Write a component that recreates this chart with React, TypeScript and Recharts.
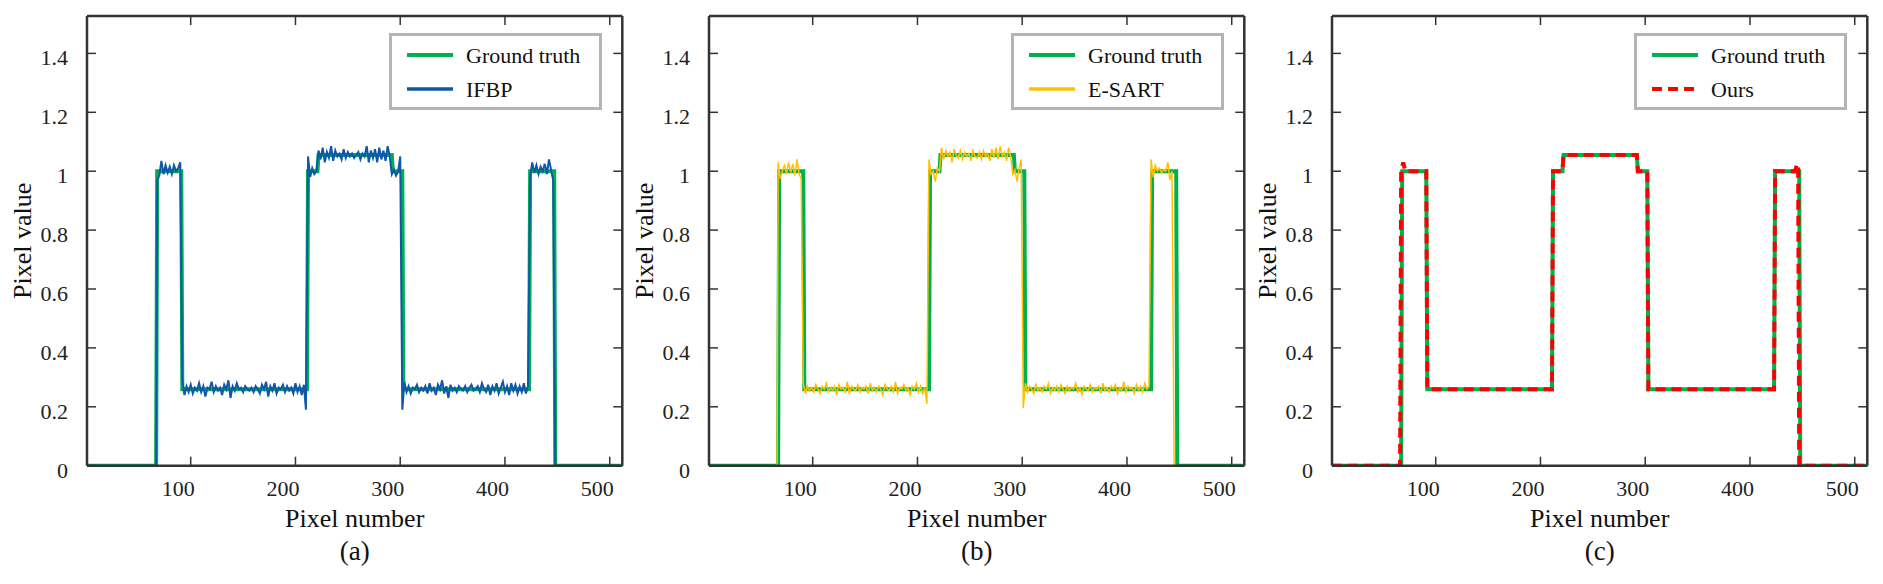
import { LineChart, Line, XAxis, YAxis, ReferenceLine, Legend } from "recharts";

const FONT = '"Liberation Serif", "Times New Roman", serif';
const AXIS = "#333333";
const GREEN = "#00b050";

// axes
const xTicks = [100, 200, 300, 400, 500];
const yTicks = [0, 0.2, 0.4, 0.6, 0.8, 1, 1.2, 1.4];
const xDomain = [1, 512];
const yDomain = [0, 1.527];

// ground truth step profile
const truthX = [1, 67, 68, 91, 92, 211, 212, 221, 222, 292, 293, 302, 303, 423, 424, 447, 448, 512];
const truthY = [0, 0, 1, 1, 0.26, 0.26, 1, 1, 1.055, 1.055, 1, 1, 0.26, 0.26, 1, 1, 0, 0];

// IFBP, read every 2 pixels along each plateau
const ifbpA = [0.97, 0.985, 1.035, 0.99, 1.02, 0.995, 1.015, 0.99, 1.02, 1.0, 1.01, 1.03]; // x 68..90
const ifbpB = [
  0.29, 0.24, 0.27, 0.25, 0.275, 0.245, 0.265, 0.255, 0.28, 0.25,
  0.27, 0.235, 0.265, 0.26, 0.285, 0.25, 0.27, 0.255, 0.265, 0.24,
  0.275, 0.26, 0.29, 0.23, 0.27, 0.255, 0.28, 0.26, 0.265, 0.25,
  0.27, 0.26, 0.255, 0.265, 0.25, 0.27, 0.26, 0.245, 0.275, 0.26,
  0.285, 0.235, 0.27, 0.255, 0.28, 0.245, 0.265, 0.26, 0.275, 0.25,
  0.27, 0.255, 0.265, 0.245, 0.28, 0.25, 0.27, 0.24, 0.275, 0.19,
]; // x 92..210
const ifbpC = [1.05, 0.98, 1.01, 0.99, 1.0]; // x 212..220
const ifbpD = [
  1.07, 1.04, 1.08, 1.03, 1.065, 1.045, 1.085, 1.035, 1.07, 1.05,
  1.06, 1.04, 1.075, 1.045, 1.065, 1.05, 1.06, 1.045, 1.055, 1.065,
  1.04, 1.06, 1.05, 1.085, 1.03, 1.07, 1.045, 1.075, 1.03, 1.08,
  1.04, 1.07, 1.035, 1.085, 1.05,
]; // x 222..290
const ifbpE = [0.99, 1.005, 0.985, 1.0, 1.05]; // x 292..300
const ifbpF = [
  0.19, 0.285, 0.25, 0.27, 0.245, 0.265, 0.26, 0.275, 0.25, 0.265,
  0.255, 0.27, 0.245, 0.28, 0.255, 0.265, 0.24, 0.275, 0.26, 0.29,
  0.245, 0.27, 0.23, 0.275, 0.255, 0.265, 0.25, 0.27, 0.26, 0.255,
  0.27, 0.25, 0.265, 0.275, 0.255, 0.26, 0.27, 0.25, 0.28, 0.26,
  0.25, 0.275, 0.24, 0.27, 0.255, 0.28, 0.245, 0.265, 0.285, 0.25,
  0.27, 0.24, 0.28, 0.255, 0.275, 0.245, 0.27, 0.25, 0.28, 0.245, 0.27,
]; // x 302..422
const ifbpG = [0.98, 1.03, 0.995, 1.02, 0.99, 1.015, 1.0, 1.025, 0.99, 1.04, 1.005, 0.97]; // x 424..446

// E-SART
const esartA = [1.03, 0.975, 1.0, 1.02, 0.99, 1.03, 0.995, 1.025, 0.985, 1.04, 0.99, 0.975]; // x 67..89
const esartB = [
  0.28, 0.245, 0.27, 0.255, 0.265, 0.25, 0.275, 0.26, 0.245, 0.27,
  0.26, 0.28, 0.25, 0.265, 0.255, 0.27, 0.24, 0.275, 0.26, 0.265,
  0.25, 0.285, 0.245, 0.27, 0.26, 0.255, 0.275, 0.25, 0.265, 0.26,
  0.27, 0.245, 0.28, 0.255, 0.265, 0.25, 0.27, 0.26, 0.24, 0.275,
  0.26, 0.255, 0.27, 0.25, 0.285, 0.245, 0.265, 0.26, 0.275, 0.255,
  0.265, 0.24, 0.27, 0.26, 0.28, 0.25, 0.27, 0.245, 0.265, 0.21,
]; // x 91..209
const esartC = [1.04, 0.99, 1.0, 0.965, 1.01, 1.0]; // x 211..221
const esartD = [
  1.08, 1.04, 1.07, 1.05, 1.065, 1.03, 1.075, 1.055, 1.045, 1.07,
  1.04, 1.065, 1.05, 1.06, 1.035, 1.07, 1.05, 1.045, 1.065, 1.04,
  1.07, 1.05, 1.06, 1.035, 1.075, 1.045, 1.08, 1.04, 1.085, 1.05,
  1.065, 1.035, 1.08, 1.05,
]; // x 223..289
const esartE = [0.99, 1.005, 0.965, 1.01, 1.04]; // x 291..299
const esartF = [
  0.195, 0.28, 0.25, 0.27, 0.26, 0.245, 0.275, 0.255, 0.265, 0.25,
  0.27, 0.26, 0.28, 0.245, 0.265, 0.255, 0.27, 0.25, 0.275, 0.26,
  0.245, 0.27, 0.255, 0.265, 0.26, 0.28, 0.25, 0.265, 0.24, 0.27,
  0.26, 0.255, 0.275, 0.25, 0.265, 0.26, 0.27, 0.245, 0.28, 0.255,
  0.265, 0.25, 0.27, 0.26, 0.275, 0.245, 0.265, 0.255, 0.285, 0.25,
  0.27, 0.26, 0.265, 0.245, 0.275, 0.255, 0.27, 0.25, 0.28, 0.26, 0.27,
]; // x 301..421
const esartG = [1.04, 0.98, 1.02, 1.0, 1.01, 0.995, 1.005, 1.0, 1.03, 0.97, 1.0]; // x 423..443

// Ours
const oursX = [1, 66, 67, 69, 71, 91, 92, 211, 212, 221, 222, 292, 293, 302, 303, 423, 424, 443, 445, 446, 447, 512];
const oursY = [0, 0, 1.0, 1.03, 1.0, 1.0, 0.26, 0.26, 1.0, 1.0, 1.055, 1.055, 1.0, 1.0, 0.26, 0.26, 1.0, 1.0, 1.025, 1.01, 0, 0];

type Pt = { x: number; y: number };
const zip = (xs: number[], ys: number[]): Pt[] => xs.map((x, i) => ({ x, y: ys[i] }));
const seg = (x0: number, ys: number[]): Pt[] => ys.map((y, i) => ({ x: x0 + 2 * i, y }));

const truth = zip(truthX, truthY);
const ifbp: Pt[] = [
  { x: 1, y: 0 }, { x: 67, y: 0 },
  ...seg(68, ifbpA), ...seg(92, ifbpB), ...seg(212, ifbpC), ...seg(222, ifbpD),
  ...seg(292, ifbpE), ...seg(302, ifbpF), ...seg(424, ifbpG),
  { x: 448, y: 0 }, { x: 512, y: 0 },
];
const esart: Pt[] = [
  { x: 1, y: 0 }, { x: 66, y: 0 },
  ...seg(67, esartA), ...seg(91, esartB), ...seg(211, esartC), ...seg(223, esartD),
  ...seg(291, esartE), ...seg(301, esartF), ...seg(423, esartG),
  { x: 445, y: 0 }, { x: 512, y: 0 },
];
const ours = zip(oursX, oursY);

// layout of one panel
const CHART_W = 640;
const CHART_H = 584;
const PLOT_LEFT = 87;
const PLOT_TOP = 16;
const PLOT_W = 535.3;
const PLOT_H = 449.7;
const PLOT_RIGHT = PLOT_LEFT + PLOT_W;
const PLOT_BOTTOM = PLOT_TOP + PLOT_H;
const X_AXIS_H = 40;
const PANEL_STEP = 622.3;

function XTick(props: any) {
  const { x, y, payload } = props;
  return (
    <g>
      <line x1={x} x2={x} y1={PLOT_BOTTOM} y2={PLOT_BOTTOM - 9} stroke={AXIS} strokeWidth={1.5} />
      <line x1={x} x2={x} y1={PLOT_TOP} y2={PLOT_TOP + 9} stroke={AXIS} strokeWidth={1.5} />
      <text x={x - 12.5} y={y} dy="0.71em" textAnchor="middle" fontFamily={FONT} fontSize={22} fill="#222">
        {payload.value}
      </text>
    </g>
  );
}

function YTick(props: any) {
  const { x, y, payload } = props;
  return (
    <g>
      <line x1={PLOT_LEFT} x2={PLOT_LEFT + 9} y1={y} y2={y} stroke={AXIS} strokeWidth={1.5} />
      <line x1={PLOT_RIGHT - 9} x2={PLOT_RIGHT} y1={y} y2={y} stroke={AXIS} strokeWidth={1.5} />
      <text x={x} y={y + 4} dy="0.355em" textAnchor="end" fontFamily={FONT} fontSize={22} fill="#222">
        {payload.value}
      </text>
    </g>
  );
}

interface PanelProps {
  tag: string;
  name: string;
  data: Pt[];
  color: string;
  width: number;
  dash?: string;
  left: number;
}

function LegendBox({ name, color, width, dash }: { name: string; color: string; width: number; dash?: string }) {
  return (
    <svg width={213} height={77} style={{ display: "block" }}>
      <rect x={1.5} y={1.5} width={210} height={74} fill="#fff" stroke="#b4b4b4" strokeWidth={3} />
      <line x1={18} x2={64} y1={22} y2={22} stroke={GREEN} strokeWidth={4} />
      <line x1={18} x2={64} y1={56} y2={56} stroke={color} strokeWidth={Math.max(width, 3.5)} strokeDasharray={dash} />
      <text x={77} y={30} fontFamily={FONT} fontSize={22} fill="#111">Ground truth</text>
      <text x={77} y={64} fontFamily={FONT} fontSize={22} fill="#111">{name}</text>
    </svg>
  );
}

function Panel({ tag, name, data, color, width, dash, left }: PanelProps) {
  return (
    <div style={{ position: "absolute", left, top: 0 }}>
      <LineChart
        width={CHART_W}
        height={CHART_H}
        margin={{
          top: PLOT_TOP,
          left: 0,
          right: CHART_W - PLOT_RIGHT,
          bottom: CHART_H - PLOT_BOTTOM - X_AXIS_H,
        }}
      >
        <XAxis
          dataKey="x"
          type="number"
          domain={xDomain}
          ticks={xTicks}
          interval={0}
          allowDataOverflow
          height={X_AXIS_H}
          tickSize={0}
          tickMargin={15}
          tickLine={false}
          axisLine={{ stroke: AXIS, strokeWidth: 2.5 }}
          tick={<XTick />}
        />
        <YAxis
          type="number"
          domain={yDomain}
          ticks={yTicks}
          interval={0}
          allowDataOverflow
          width={PLOT_LEFT}
          tickSize={0}
          tickMargin={19}
          tickLine={false}
          axisLine={{ stroke: AXIS, strokeWidth: 2.5 }}
          tick={<YTick />}
        />
        <ReferenceLine y={yDomain[1]} stroke={AXIS} strokeWidth={2.5} />
        <ReferenceLine x={xDomain[1]} stroke={AXIS} strokeWidth={2.5} />
        <Line
          data={truth}
          dataKey="y"
          type="linear"
          stroke={GREEN}
          strokeWidth={4}
          dot={false}
          activeDot={false}
          isAnimationActive={false}
        />
        <Line
          data={data}
          dataKey="y"
          type="linear"
          stroke={color}
          strokeWidth={width}
          strokeDasharray={dash}
          dot={false}
          activeDot={false}
          isAnimationActive={false}
        />
        <Legend
          layout="horizontal"
          verticalAlign="middle"
          align="center"
          content={() => <LegendBox name={name} color={color} width={width} dash={dash} />}
          wrapperStyle={{ left: 389, top: 33, width: 213, height: 77 }}
        />
        <text x={PLOT_LEFT + PLOT_W / 2} y={527} textAnchor="middle" fontFamily={FONT} fontSize={26} fill="#111">
          Pixel number
        </text>
        <text x={PLOT_LEFT + PLOT_W / 2} y={560} textAnchor="middle" fontFamily={FONT} fontSize={27} fill="#111">
          {tag}
        </text>
        <text
          x={31}
          y={PLOT_TOP + PLOT_H / 2}
          transform={`rotate(-90, 31, ${PLOT_TOP + PLOT_H / 2})`}
          textAnchor="middle"
          fontFamily={FONT}
          fontSize={26}
          fill="#111"
        >
          Pixel value
        </text>
      </LineChart>
    </div>
  );
}

export default function App() {
  return (
    <div style={{ position: "absolute", left: 0, top: 0, width: 1883, height: 584, background: "#fff" }}>
      <Panel tag="(a)" name="IFBP" data={ifbp} color="#0e58a8" width={2} left={0} />
      <Panel tag="(b)" name="E-SART" data={esart} color="#ffc000" width={1.5} left={PANEL_STEP} />
      <Panel tag="(c)" name="Ours" data={ours} color="#ff0000" width={4} dash="10 6" left={PANEL_STEP * 2} />
    </div>
  );
}
